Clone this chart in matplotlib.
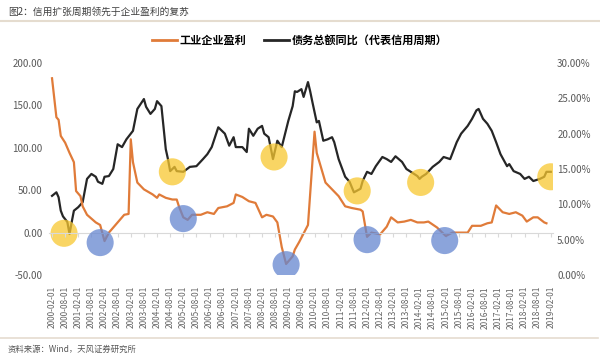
import numpy as np
import pandas as pd
import matplotlib
matplotlib.use('Agg')
import matplotlib.pyplot as plt
from matplotlib.lines import Line2D
from matplotlib.ticker import FuncFormatter

plt.rcParams['font.family'] = ['Noto Sans CJK SC', 'DejaVu Sans']

# x positions are months counted from 2000-02
profit_month = [0, 2, 3, 4, 6, 8, 10, 11, 13, 14, 16, 20, 22, 24, 26, 29, 33, 35, 36, 37,
                39, 42, 46, 48, 49, 52, 55, 57, 58, 60, 62, 64, 68, 71, 74, 76, 80, 83, 84, 87,
                90, 93, 96, 98, 101, 103, 105, 107, 110, 111, 113, 117, 120, 121, 125, 128, 131, 134, 137, 141,
                142, 144, 146, 150, 153, 155, 158, 161, 164, 167, 170, 172, 176, 180, 183, 186, 190, 192, 196, 199,
                201, 203, 206, 209, 212, 215, 217, 220, 222, 225, 226]
profit_value = [182, 136, 133, 114, 106, 94, 83, 49, 43, 31, 21, 12, 9, -10, 0, 9, 21, 22, 110, 83,
                59, 51, 45, 41, 45, 41, 39, 39, 31, 18, 15, 21, 21, 24, 22, 29, 31, 35, 45, 42,
                37, 35, 18, 21, 19, 12, -17, -37, -28, -20, -11, 9, 119, 94, 59, 51, 43, 31, 29, 27,
                25, -5, 0, -2, 7, 18, 12, 13, 15, 12, 12, 13, 6, -4, 0, 0, 0, 8, 8, 11,
                12, 32, 24, 22, 24, 20, 13, 18, 18, 12, 11]

debt_month = [0, 2, 3, 4, 5, 7, 8, 9, 10, 12, 14, 16, 18, 20, 21, 23, 24, 26, 28, 30,
              32, 34, 37, 39, 42, 43, 45, 47, 48, 50, 52, 53, 54, 56, 57, 60, 63, 66, 69, 71,
              73, 76, 79, 81, 83, 84, 87, 89, 90, 92, 94, 96, 97, 99, 101, 103, 105, 108, 110, 111,
              112, 114, 115, 117, 118, 119, 121, 122, 124, 126, 128, 129, 131, 134, 136, 138, 141, 142, 144, 146,
              148, 151, 153, 155, 157, 160, 162, 164, 167, 168, 169, 171, 174, 177, 179, 182, 185, 187, 190, 192,
              194, 195, 197, 199, 201, 203, 205, 208, 209, 211, 214, 216, 218, 220, 223, 225, 226, 228]
debt_value = [11.2, 11.7, 11.0, 9.1, 8.3, 7.5, 5.8, 7.5, 9.1, 9.6, 10.3, 13.6, 14.3, 13.9, 13.2, 12.9, 13.9, 14.0, 15.0, 18.5,
              18.1, 19.2, 20.4, 23.5, 24.9, 23.8, 22.8, 23.5, 24.6, 23.9, 17.8, 16.4, 14.7, 15.3, 14.7, 14.6, 15.3, 15.4, 16.4, 17.1,
              18.1, 20.9, 20.0, 18.3, 19.5, 18.1, 18.1, 17.4, 20.7, 19.7, 20.7, 21.1, 20.0, 19.5, 16.4, 19.0, 18.1, 21.8, 23.9, 26.0,
              25.9, 26.3, 25.2, 27.3, 26.0, 24.5, 21.6, 21.8, 19.0, 19.2, 19.5, 18.8, 16.4, 13.9, 13.2, 11.7, 12.2, 13.3, 14.6, 14.3,
              15.4, 16.7, 16.4, 16.0, 16.8, 16.0, 15.0, 14.6, 14.0, 13.6, 13.9, 14.3, 15.3, 16.0, 16.7, 16.4, 18.8, 20.0, 21.1, 22.1,
              23.3, 23.5, 22.1, 21.4, 20.4, 18.8, 17.1, 15.4, 15.7, 14.7, 14.3, 13.6, 13.9, 13.3, 13.6, 13.9, 14.6, 14.6]

# highlight circles: yellow on the credit line, blue on the profit line
yellow_month = [5.5, 55, 101.5, 139.5, 168.5, 228]
yellow_value = [5.9, 14.6, 16.7, 11.9, 13.1, 13.9]
blue_month = [22, 60, 107, 144, 179.5]
blue_value = [-11.8, 16.5, -37.8, -8.3, -9.4]

tick_month = np.arange(0, 229, 6)
tick_labels = pd.date_range('2000-02-01', periods=len(tick_month), freq='6MS').strftime('%Y-%m-%d')

fig = plt.figure(figsize=(6, 3.58), dpi=100)
ax = fig.add_axes([49.4 / 600, 1 - 275 / 358, (553 - 49.4) / 600, (275 - 63) / 358])
ax2 = ax.twinx()

ax2.plot(debt_month, debt_value, color='#262626', lw=1.6)
ax.plot(profit_month, profit_value, color='#E07B39', lw=1.6)
ax.set_zorder(ax2.get_zorder() + 1)
ax.patch.set_visible(False)

ax2.scatter(yellow_month, yellow_value, s=380, color='#F8C830', alpha=0.75, edgecolors='none', zorder=5)
ax.scatter(blue_month, blue_value, s=380, color='#6586D0', alpha=0.75, edgecolors='none', zorder=5)

ax.set_xlim(-1.2, 229)
ax.set_ylim(-50, 200)
ax.set_yticks(np.arange(-50, 201, 50))
ax.yaxis.set_major_formatter(FuncFormatter(lambda v, p: f'{v:.2f}'))
ax2.set_ylim(0, 30)
ax2.set_yticks(np.arange(0, 31, 5))
ax2.yaxis.set_major_formatter(FuncFormatter(lambda v, p: f'{v:.2f}%'))

for a in (ax, ax2):
    for s in a.spines.values():
        s.set_visible(False)
ax.spines['bottom'].set_visible(True)
ax.spines['bottom'].set_position(('data', 0))
ax.spines['bottom'].set_color('#D9D9D9')
ax.spines['bottom'].set_linewidth(0.8)

ax.set_xticks(tick_month)
ax.tick_params(axis='x', direction='out', length=3, width=0.8, color='#D9D9D9', labelbottom=False)
ax.tick_params(axis='y', length=0, labelsize=7, labelcolor='#595959', pad=5)
ax2.tick_params(axis='y', length=0, labelsize=7, labelcolor='#595959', pad=3)

sec = ax.secondary_xaxis('bottom')
sec.set_xticks(tick_month, labels=tick_labels, rotation=90)
sec.tick_params(length=0, labelsize=6, labelcolor='#666666', pad=8)
sec.spines['bottom'].set_visible(False)

handles = [Line2D([], [], color='#E07B39', lw=2), Line2D([], [], color='#262626', lw=2)]
fig.legend(handles, ['工业企业盈利', '债务总额同比（代表信用周期）'], loc='center',
           bbox_to_anchor=(0.5, 1 - 40 / 358), ncol=2, frameon=False,
           prop={'weight': 'bold', 'size': 8}, handlelength=2.2, columnspacing=1.6, handletextpad=0.3)

fig.text(8 / 600, 1 - 12 / 358, '图2：信用扩张周期领先于企业盈利的复苏', fontsize=7, color='#404040', va='center')
fig.text(8 / 600, 1 - 349 / 358, '资料来源：Wind，天风证券研究所', fontsize=6, color='#555555', va='center')
fig.add_artist(Line2D([0, 1], [1 - 21 / 358] * 2, color='#E5DCCF', lw=1.5))
fig.add_artist(Line2D([0, 598 / 600], [1 - 338 / 358] * 2, color='#E5DCCF', lw=1.2))

fig.savefig('out.png', dpi=100)
